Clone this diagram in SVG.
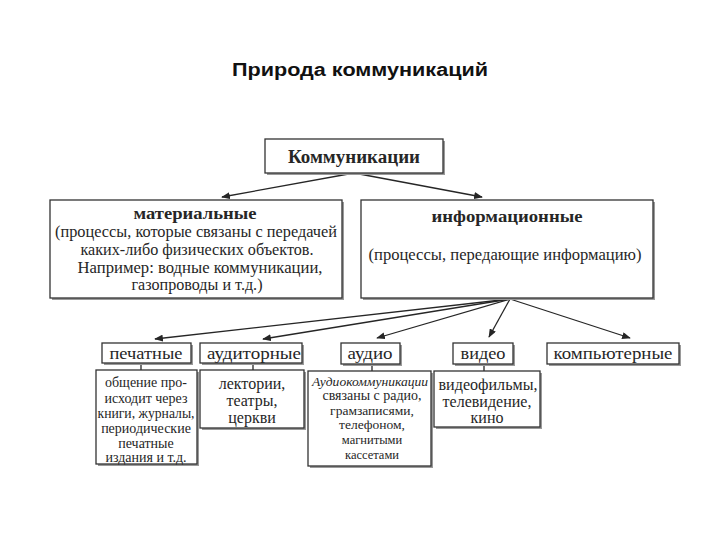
<svg xmlns="http://www.w3.org/2000/svg" width="720" height="540" viewBox="0 0 720 540">
<defs>
<style>
.bx{fill:#fff;stroke:#333;stroke-width:1.3}
.sh{fill:#9a9a9a}
.t{font-family:"Liberation Serif","DejaVu Serif",serif;fill:#262626;text-anchor:middle}
.b{font-weight:bold}
.ln{stroke:#262626;stroke-width:1.3;fill:none}
</style>
<marker id="ah" viewBox="0 0 10 8" refX="9" refY="4" markerWidth="9" markerHeight="7" markerUnits="userSpaceOnUse" orient="auto">
<path d="M0,0 L10,4 L0,8 Z" fill="#262626"/>
</marker>
</defs>
<rect width="720" height="540" fill="#fff"/>
<text x="360" y="76" font-family="Liberation Sans,Arial,sans-serif" font-weight="bold" font-size="18" text-anchor="middle" fill="#111" textLength="256" lengthAdjust="spacingAndGlyphs">Природа коммуникаций</text>

<g id="connectors">
<line class="ln" x1="354" y1="173" x2="222" y2="197" marker-end="url(#ah)"/>
<line class="ln" x1="354" y1="173" x2="482" y2="197" marker-end="url(#ah)"/>
<line class="ln" x1="510" y1="299" x2="155" y2="339" marker-end="url(#ah)"/>
<line class="ln" x1="510" y1="299" x2="263" y2="339" marker-end="url(#ah)"/>
<line class="ln" x1="510" y1="299" x2="377" y2="338" marker-end="url(#ah)"/>
<line class="ln" x1="510" y1="299" x2="489" y2="337" marker-end="url(#ah)"/>
<line class="ln" x1="510" y1="299" x2="630" y2="338" marker-end="url(#ah)"/>
<line class="ln" x1="141" y1="363" x2="141" y2="370"/>
<line class="ln" x1="253" y1="363" x2="253" y2="370"/>
<line class="ln" x1="372" y1="364" x2="372" y2="371"/>
<line class="ln" x1="484" y1="364" x2="484" y2="371"/>
</g>

<g id="node-kommunikacii">
<rect class="sh" x="267" y="141" width="178" height="34"/>
<rect class="bx" x="265" y="139" width="178" height="34"/>
<text class="t b" x="354" y="163" font-size="18" textLength="132" lengthAdjust="spacingAndGlyphs">Коммуникации</text>
</g>

<g id="node-materialnye">
<rect class="sh" x="52" y="202" width="292" height="98"/>
<rect class="bx" x="50" y="200" width="292" height="98"/>
<text class="t b" x="195" y="219" font-size="17" textLength="123" lengthAdjust="spacingAndGlyphs">материальные</text>
<text class="t" x="196" y="237" font-size="16" textLength="282" lengthAdjust="spacingAndGlyphs">(процессы, которые связаны с передачей</text>
<text class="t" x="197" y="255" font-size="16" textLength="233" lengthAdjust="spacingAndGlyphs">каких-либо физических объектов.</text>
<text class="t" x="200" y="273" font-size="16" textLength="245" lengthAdjust="spacingAndGlyphs">Например: водные коммуникации,</text>
<text class="t" x="197" y="290" font-size="16" textLength="131" lengthAdjust="spacingAndGlyphs">газопроводы и т.д.)</text>
</g>

<g id="node-informacionnye">
<rect class="sh" x="363" y="202" width="292" height="98"/>
<rect class="bx" x="361" y="200" width="292" height="98"/>
<text class="t b" x="507" y="222" font-size="17" textLength="151" lengthAdjust="spacingAndGlyphs">информационные</text>
<text class="t" x="505" y="260" font-size="16" textLength="273" lengthAdjust="spacingAndGlyphs">(процессы, передающие информацию)</text>
</g>

<g id="node-pechatnye">
<rect class="sh" x="104" y="345" width="89" height="20"/>
<rect class="bx" x="102" y="343" width="89" height="20"/>
<text class="t" x="146" y="359" font-size="17" textLength="73" lengthAdjust="spacingAndGlyphs">печатные</text>
</g>

<g id="node-auditornye">
<rect class="sh" x="202" y="345" width="102" height="20"/>
<rect class="bx" x="200" y="343" width="102" height="20"/>
<text class="t" x="254" y="359" font-size="17" textLength="94" lengthAdjust="spacingAndGlyphs">аудиторные</text>
</g>

<g id="node-audio">
<rect class="sh" x="343" y="345" width="59" height="21"/>
<rect class="bx" x="341" y="343" width="59" height="21"/>
<text class="t" x="370" y="359" font-size="17" textLength="45" lengthAdjust="spacingAndGlyphs">аудио</text>
</g>

<g id="node-video">
<rect class="sh" x="455" y="345" width="60" height="21"/>
<rect class="bx" x="453" y="343" width="60" height="21"/>
<text class="t" x="483" y="359" font-size="17" textLength="45" lengthAdjust="spacingAndGlyphs">видео</text>
</g>

<g id="node-kompyuternye">
<rect class="sh" x="549" y="345" width="132" height="21"/>
<rect class="bx" x="547" y="343" width="132" height="21"/>
<text class="t" x="613" y="359" font-size="17" textLength="119" lengthAdjust="spacingAndGlyphs">компьютерные</text>
</g>

<g id="node-pechatnye-desc">
<rect class="sh" x="98" y="372" width="101" height="94"/>
<rect class="bx" x="96" y="370" width="101" height="94"/>
<text class="t" x="146" y="387" font-size="14">общение про-</text>
<text class="t" x="146" y="403" font-size="14">исходит через</text>
<text class="t" x="146" y="418" font-size="14" textLength="97" lengthAdjust="spacingAndGlyphs">книги, журналы,</text>
<text class="t" x="146" y="433" font-size="14">периодические</text>
<text class="t" x="146" y="448" font-size="14">печатные</text>
<text class="t" x="146" y="462" font-size="14">издания и т.д.</text>
</g>

<g id="node-auditornye-desc">
<rect class="sh" x="202" y="372" width="104" height="58"/>
<rect class="bx" x="200" y="370" width="104" height="58"/>
<text class="t" x="252" y="389" font-size="16">лектории,</text>
<text class="t" x="252" y="406" font-size="16">театры,</text>
<text class="t" x="252" y="423" font-size="16">церкви</text>
</g>

<g id="node-audio-desc">
<rect class="sh" x="310" y="373" width="123" height="95"/>
<rect class="bx" x="308" y="371" width="123" height="95"/>
<text class="t" x="370" y="386" font-size="12.5" font-style="italic" textLength="116" lengthAdjust="spacingAndGlyphs">Аудиокоммуникации</text>
<text class="t" x="372" y="400" font-size="14" textLength="99" lengthAdjust="spacingAndGlyphs">связаны с радио,</text>
<text class="t" x="372" y="415" font-size="13.5">грамзаписями,</text>
<text class="t" x="372" y="429" font-size="13.5">телефоном,</text>
<text class="t" x="372" y="444" font-size="12.5">магнитыми</text>
<text class="t" x="372" y="459" font-size="12.5">кассетами</text>
</g>

<g id="node-video-desc">
<rect class="sh" x="436" y="373" width="106" height="56"/>
<rect class="bx" x="434" y="371" width="106" height="56"/>
<text class="t" x="488" y="390" font-size="16" textLength="99" lengthAdjust="spacingAndGlyphs">видеофильмы,</text>
<text class="t" x="487" y="407" font-size="16">телевидение,</text>
<text class="t" x="487" y="423" font-size="16">кино</text>
</g>
</svg>
